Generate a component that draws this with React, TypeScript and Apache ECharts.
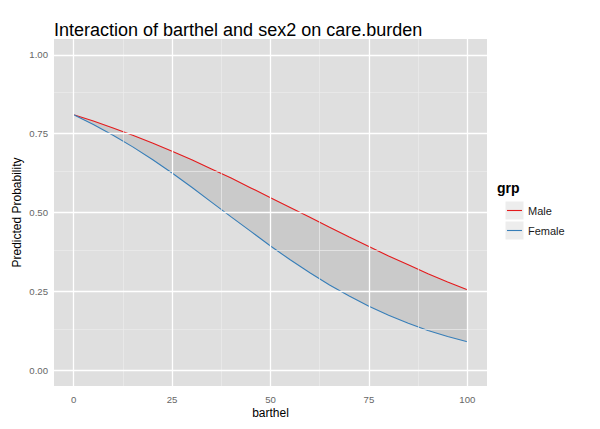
import React, { useEffect, useRef } from "react";
import * as echarts from "echarts";

const barthel = [0, 5, 10, 15, 20, 25, 30, 35, 40, 45, 50, 55, 60, 65, 70, 75, 80, 85, 90, 95, 100];
const maleProb = [0.810, 0.790, 0.768, 0.745, 0.720, 0.694, 0.667, 0.638, 0.609, 0.578, 0.547, 0.516, 0.485, 0.453, 0.422, 0.392, 0.362, 0.334, 0.306, 0.280, 0.255];
const femaleProb = [0.810, 0.779, 0.745, 0.708, 0.668, 0.625, 0.580, 0.533, 0.486, 0.440, 0.394, 0.350, 0.309, 0.270, 0.235, 0.203, 0.174, 0.149, 0.126, 0.107, 0.090];
const xTicks = [0, 25, 50, 75, 100];
const xMinor = [12.5, 37.5, 62.5, 87.5];
const yTicks = [0, 0.25, 0.5, 0.75, 1];
const yMinor = [0.125, 0.375, 0.625, 0.875];
const groups = ["Male", "Female"];
const colors = ["#E41A1C", "#377EB8"];

const FONT = "Liberation Sans, Arial, sans-serif";

export default function App() {
  const ref = useRef<HTMLDivElement>(null);
  useEffect(() => {
    const chart = echarts.init(ref.current!, undefined, { renderer: "svg" });
    const major = { color: "#FFFFFF", width: 1.3, type: "solid" as const };
    const minor = { color: "#EDEDED", width: 0.7, type: "solid" as const };
    const markData: any[] = [
      ...xMinor.map((v) => ({ xAxis: v, lineStyle: minor })),
      ...yMinor.map((v) => ({ yAxis: v, lineStyle: minor })),
      ...xTicks.map((v) => ({ xAxis: v, lineStyle: major })),
      ...yTicks.map((v) => ({ yAxis: v, lineStyle: major })),
    ];
    const ribbonData = barthel.map((x, i) => [x, femaleProb[i], maleProb[i]]);
    const option: any = {
      animation: false,
      title: {
        text: "Interaction of barthel and sex2 on care.burden",
        left: 54,
        top: 21,
        padding: 0,
        textStyle: { fontFamily: FONT, fontSize: 18, fontWeight: "normal", color: "#000" },
      },
      grid: {
        left: 54,
        right: 113,
        top: 39,
        bottom: 43,
        show: true,
        backgroundColor: "#DFDFDF",
        borderWidth: 0,
      },
      xAxis: {
        type: "value",
        min: -5,
        max: 105,
        name: "barthel",
        nameLocation: "middle",
        nameGap: 21,
        nameMoveOverlap: false,
        nameTextStyle: { fontFamily: FONT, fontSize: 12, color: "#000" },
        axisLine: { show: false },
        axisTick: { show: true, length: 4, customValues: xTicks, lineStyle: { color: "#7F7F7F" } },
        axisLabel: {
          customValues: xTicks,
          fontFamily: FONT,
          fontSize: 9.6,
          color: "#666666",
          margin: 8,
        },
        splitLine: { show: false },
      },
      yAxis: {
        type: "value",
        min: -0.05,
        max: 1.05,
        name: "Predicted Probability",
        nameLocation: "middle",
        nameGap: 31,
        nameMoveOverlap: false,
        nameTextStyle: { fontFamily: FONT, fontSize: 12, color: "#000" },
        axisLine: { show: false },
        axisTick: { show: true, length: 4, customValues: yTicks, lineStyle: { color: "#7F7F7F" } },
        axisLabel: {
          customValues: yTicks,
          formatter: (v: number) => v.toFixed(2),
          fontFamily: FONT,
          fontSize: 9.6,
          color: "#666666",
          margin: 6,
        },
        splitLine: { show: false },
      },
      series: [
        {
          name: "gridlines",
          type: "line",
          z: 1,
          silent: true,
          data: barthel.map((x, i) => [x, femaleProb[i]]),
          symbol: "none",
          lineStyle: { opacity: 0 },
          markLine: {
            silent: true,
            symbol: "none",
            label: { show: false },
            animation: false,
            data: markData,
          },
        },
        {
          name: "ribbon",
          type: "custom",
          z: 2,
          silent: true,
          data: [0],
          renderItem: (params: any, api: any) => {
            const upper = ribbonData.map((d) => api.coord([d[0], d[2]]));
            const lower = ribbonData.map((d) => api.coord([d[0], d[1]])).reverse();
            return {
              type: "polygon",
              shape: { points: upper.concat(lower) },
              style: { fill: "#9A9A9A", opacity: 0.3 },
            };
          },
        },
        {
          name: groups[0],
          type: "line",
          z: 3,
          data: barthel.map((x, i) => [x, maleProb[i]]),
          symbol: "none",
          lineStyle: { color: colors[0], width: 1.1 },
        },
        {
          name: groups[1],
          type: "line",
          z: 3,
          data: barthel.map((x, i) => [x, femaleProb[i]]),
          symbol: "none",
          lineStyle: { color: colors[1], width: 1.1 },
        },
      ],
      graphic: [
        {
          type: "text",
          left: 497,
          top: 181,
          style: { text: "grp", fontFamily: FONT, fontSize: 14, fontWeight: "bold", fill: "#000" },
        },
        ...groups.flatMap((g, i) => [
          {
            type: "rect",
            shape: { x: 505, y: 201 + i * 20, width: 19, height: 19 },
            style: { fill: "#EDEDED", stroke: "#FFFFFF", lineWidth: 1 },
          },
          {
            type: "line",
            shape: { x1: 507, y1: 210.5 + i * 20, x2: 522, y2: 210.5 + i * 20 },
            style: { stroke: colors[i], lineWidth: 1.1 },
          },
          {
            type: "text",
            x: 528,
            y: 210.5 + i * 20,
            style: {
              text: g,
              fontFamily: FONT,
              fontSize: 11,
              fill: "#1A1A1A",
              verticalAlign: "middle",
              align: "left",
            },
          },
        ]),
      ],
    };
    chart.setOption(option);
    return () => chart.dispose();
  }, []);
  return (
    <div
      ref={ref}
      style={{ position: "fixed", left: 0, top: 0, width: 600, height: 429, background: "#fff" }}
    />
  );
}
